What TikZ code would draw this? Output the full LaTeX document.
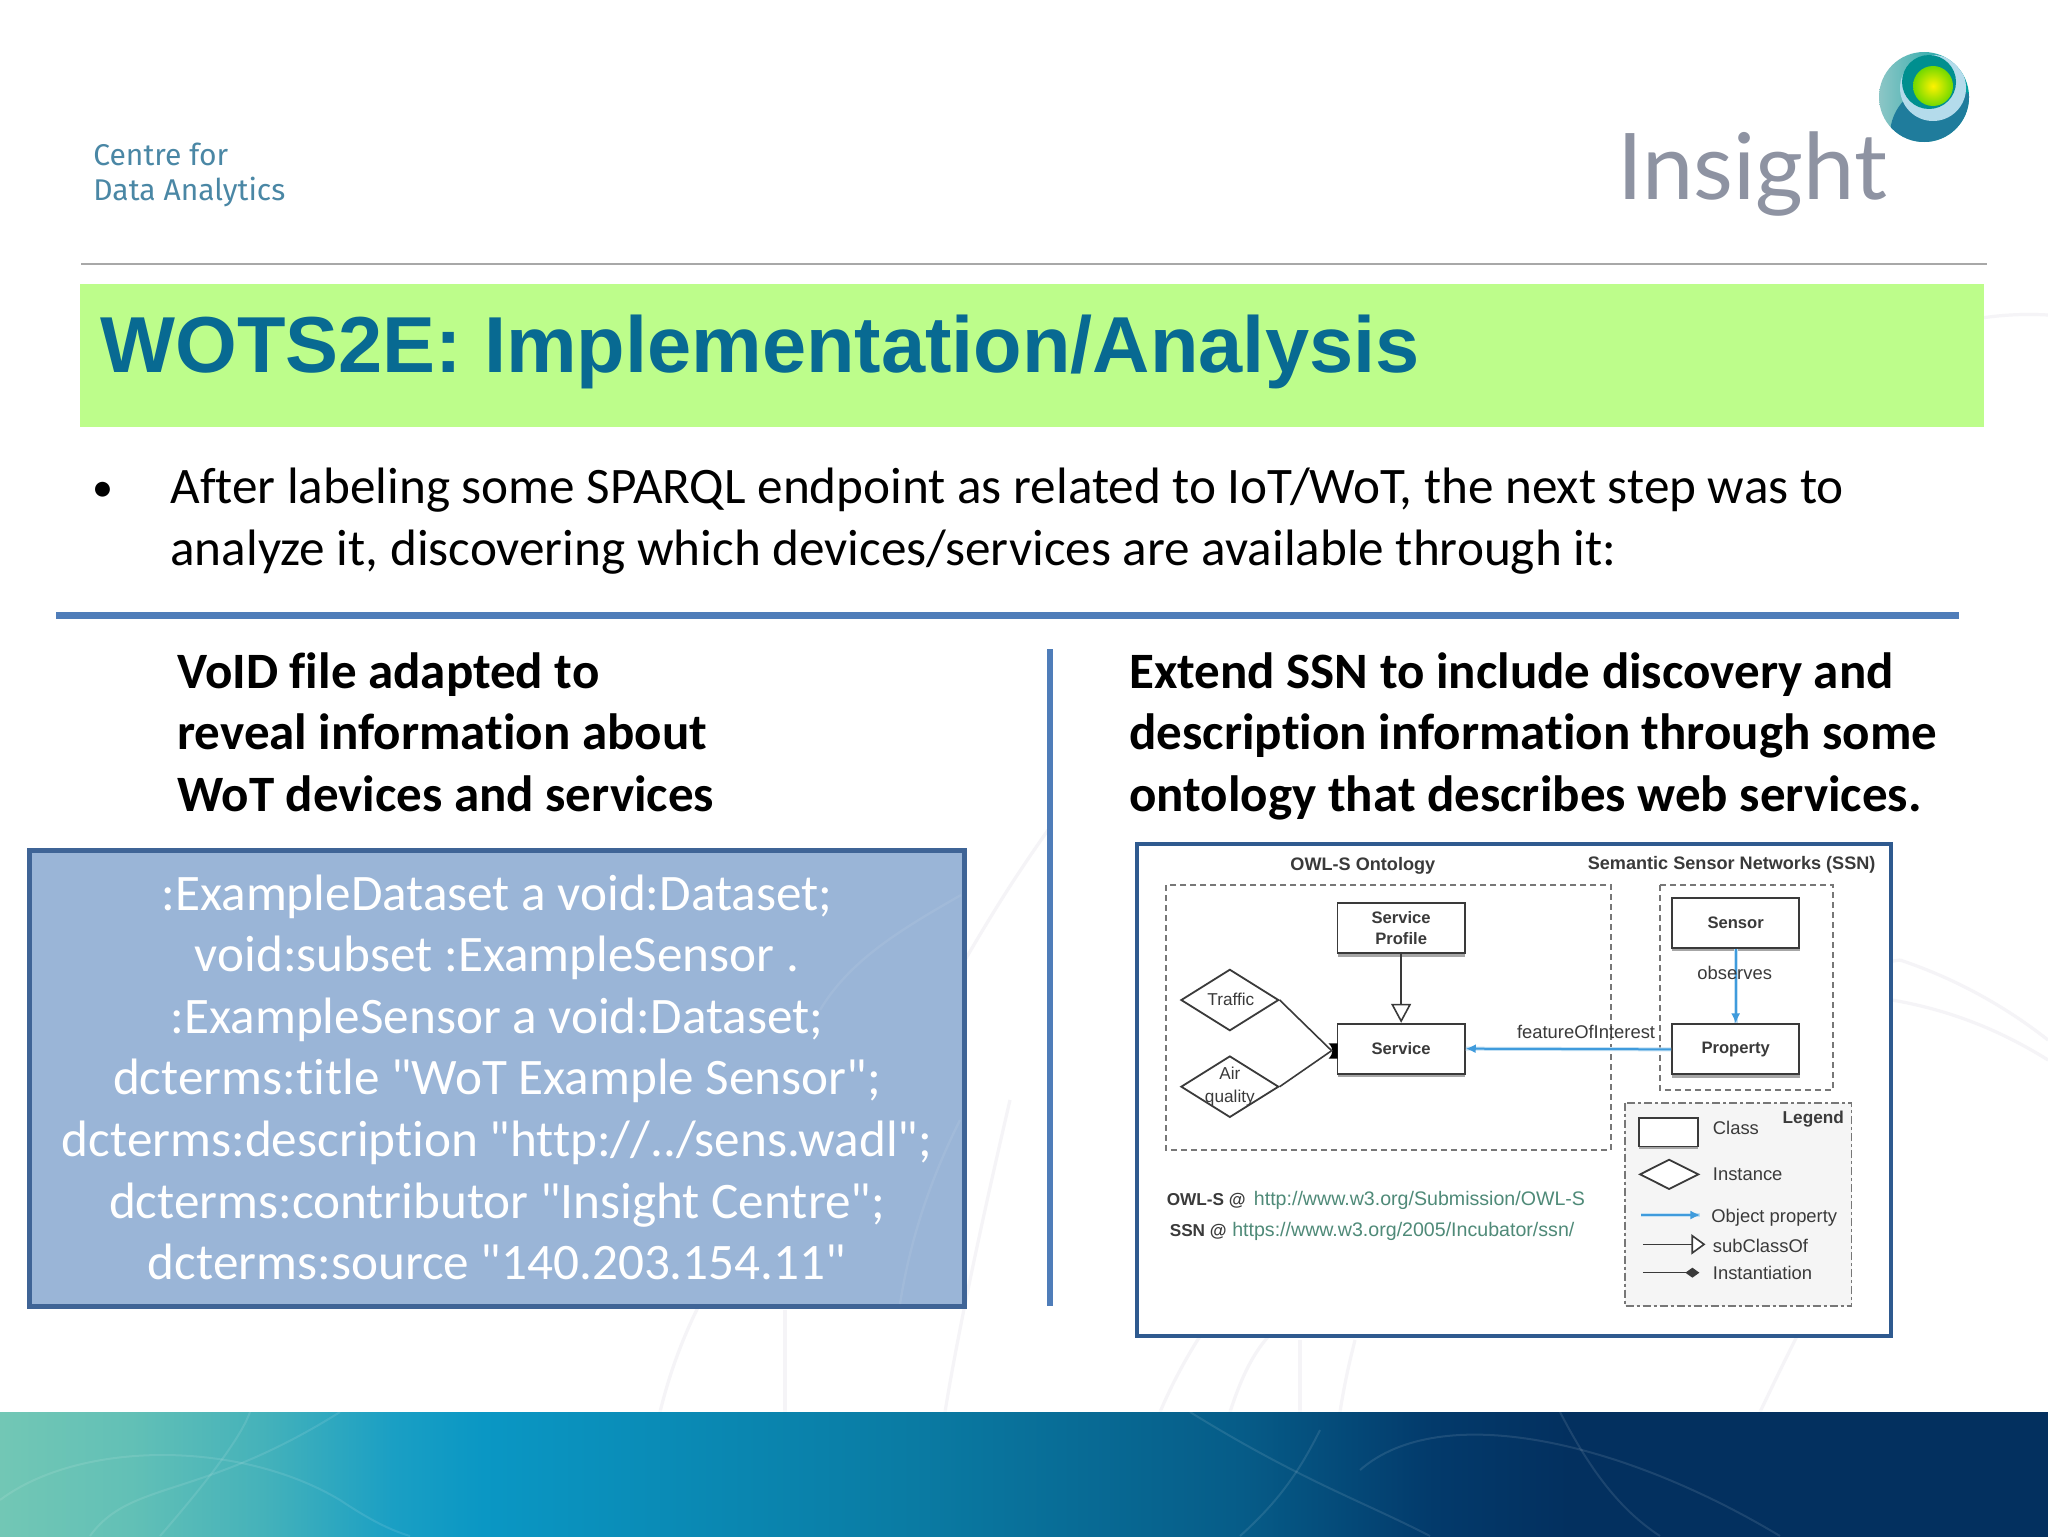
\documentclass[tikz,border=0pt]{standalone}
\usepackage{fontspec}
\setmainfont{Carlito}[Ligatures=NoCommon]
\setsansfont{Liberation Sans}
\newfontfamily\carl{Carlito}[Ligatures=NoCommon]
\newfontfamily\logofont{Lato}
\newfontfamily\ctrfont{Fira Sans}
\usetikzlibrary{arrows.meta,shapes.geometric}
\definecolor{bandgreen}{HTML}{BDFD8B}
\definecolor{titleblue}{HTML}{086A92}
\definecolor{rulegray}{HTML}{A8A8A8}
\definecolor{ruleblue}{HTML}{4F7DB9}
\definecolor{boxfill}{HTML}{9AB5D7}
\definecolor{boxedge}{HTML}{3F6496}
\definecolor{imgedge}{HTML}{2F5A8F}
\definecolor{faint}{HTML}{F5F4F7}
\definecolor{inkg}{HTML}{3A3A3A}
\definecolor{dashg}{HTML}{777777}
\definecolor{linkg}{HTML}{4F8A78}
\definecolor{arrowb}{HTML}{3F9BDC}
\definecolor{insightg}{HTML}{8E93A2}
\definecolor{ctrb}{HTML}{4A87A5}
\definecolor{sphdark}{HTML}{1F7C9C}
\definecolor{g0}{HTML}{72C7B5}
\definecolor{g1}{HTML}{62C0B6}
\definecolor{g2}{HTML}{45B2BA}
\definecolor{g3}{HTML}{1A9FC4}
\definecolor{g4}{HTML}{0A97C4}
\definecolor{g5}{HTML}{0A7BA3}
\definecolor{g6}{HTML}{065C88}
\definecolor{g7}{HTML}{033A6B}
\definecolor{g8}{HTML}{03305F}
\pgfdeclarehorizontalshading{footgrad}{100bp}{
 color(0bp)=(g0);
 color(25bp)=(g0);
 color(28.2bp)=(g1);
 color(31.4bp)=(g2);
 color(34.6bp)=(g3);
 color(36.8bp)=(g4);
 color(47.3bp)=(g5);
 color(55.3bp)=(g6);
 color(60bp)=(g7);
 color(63.3bp)=(g8);
 color(100bp)=(g8)}
\tikzset{
 body/.style={anchor=base west,inner sep=0pt,font=\carl\fontsize{25.6}{30}\selectfont},
 head/.style={anchor=base west,inner sep=0pt,font=\carl\fontsize{25.5}{30}\selectfont\bfseries},
 code/.style={anchor=base,inner sep=0pt,text=white,font=\carl\fontsize{25.6}{30}\selectfont},
 bgline/.style={draw=faint,line width=1.6pt},
 footline/.style={draw=white,opacity=.10,line width=1pt},
 klass/.style={draw=inkg,fill=white,line width=.9pt,minimum width=63.7pt,minimum height=25pt,inner sep=0pt,align=center,font=\sffamily\bfseries\fontsize{8.3}{10.5}\selectfont,text=inkg},
 inst/.style={diamond,draw=inkg,line width=.9pt,inner sep=0pt,minimum width=48.9pt,minimum height=30.7pt},
 shadowbar/.style={fill=black!35,draw=none},
 grp/.style={draw=dashg,line width=.9pt,dash pattern=on 3pt off 2pt},
 lab/.style={inner sep=0pt,text=inkg,font=\sffamily\fontsize{9.2}{10}\selectfont},
 labb/.style={inner sep=0pt,text=inkg,font=\sffamily\bfseries\fontsize{8.6}{10}\selectfont},
 link/.style={inner sep=0pt,text=linkg,anchor=base west,font=\sffamily\fontsize{9.8}{11}\selectfont},
 objprop/.style={draw=arrowb,line width=1pt,-{Latex[length=5pt,width=4.5pt]},preaction={draw=arrowb!30,line width=2pt,-}},
 subcl/.style={draw=inkg,line width=.8pt,-{Triangle[open,length=9.5pt,width=10pt,fill=white]}},
}
\begin{document}
\begin{tikzpicture}[x=.5pt,y=-.5pt]
\useasboundingbox (0,0) rectangle (2048,1536);
\fill[white] (0,0) rectangle (2048,1536);
% faint background texture
\draw[bgline] (1800,400) .. controls (1880,340) and (1960,310) .. (2048,315);
\draw[bgline] (1160,1412) .. controls (1250,1200) and (1500,1020) .. (1900,960);
\draw[bgline] (1900,960) .. controls (1960,980) and (2010,1010) .. (2048,1040);
\draw[bgline] (660,1412) .. controls (680,1330) and (720,1250) .. (790,1180);
\draw[bgline] (785,1412) .. controls (785,1380) and (785,1350) .. (785,1310);
\draw[bgline] (945,1412) .. controls (955,1350) and (975,1250) .. (1010,1100);
\draw[bgline] (1230,1412) .. controls (1250,1350) and (1270,1330) .. (1300,1310);
\draw[bgline] (1300,1412) .. controls (1300,1380) and (1300,1360) .. (1300,1340);
\draw[bgline] (1340,1412) .. controls (1345,1380) and (1350,1360) .. (1355,1340);
\draw[bgline] (1760,1412) .. controls (1780,1370) and (1790,1350) .. (1800,1330);
\draw[bgline] (1892,1000) .. controls (1950,1010) and (2000,1030) .. (2048,1060);
\draw[bgline] (965,960) .. controls (1000,900) and (1020,870) .. (1048,830);
% footer band
\shade[shading=footgrad] (0,1412) rectangle (2048,1536);
\draw[white,opacity=.5,line width=.6pt] (0,1411) -- (2048,1411);
\draw[footline] (0,1500) .. controls (80,1440) and (240,1440) .. (340,1500) .. controls (370,1520) and (390,1530) .. (410,1536);
\draw[footline] (90,1536) .. controls (130,1480) and (200,1500) .. (340,1412);
\draw[footline] (160,1536) .. controls (200,1490) and (240,1440) .. (250,1412);
\draw[footline] (1360,1470) .. controls (1440,1400) and (1620,1440) .. (1780,1536);
\draw[footline] (1190,1412) .. controls (1300,1480) and (1360,1500) .. (1430,1536);
\draw[footline] (1560,1412) .. controls (1590,1470) and (1620,1510) .. (1660,1536);
\draw[footline] (1240,1536) .. controls (1280,1500) and (1300,1470) .. (1320,1430);
% logos
\node[anchor=base west,inner sep=0pt,text=ctrb,font=\ctrfont\fontsize{15}{17}\selectfont] (ctr1) at (93,165) {Centre for};
\node[anchor=base west,inner sep=0pt,text=ctrb,font=\ctrfont\fontsize{15}{17}\selectfont] (ctr2) at (93,200) {Data Analytics};
\node[anchor=base west,inner sep=0pt,text=insightg,font=\logofont\fontsize{46}{50}\selectfont] (insight) at (1617,199) {Insight};
\begin{scope}
 \clip (1924,97) circle[radius=45];
 \shade[left color=teal!45!white,right color=teal!75!cyan] (1879,52) rectangle (1969,142);
 \fill[sphdark] (1940,135) circle[radius=50];
 \fill[cyan!20!white!85!teal] (1933,88) circle[radius=33];
 \fill[teal!88!cyan] (1929,82) circle[radius=27];
 \shade[inner color=yellow!90!orange,outer color=lime!70!green!85!black] (1933,86) circle[radius=20];
\end{scope}
% rules and band
\draw[rulegray,line width=.8pt] (81,264) -- (1987,264);
\fill[bandgreen] (80,284) rectangle (1984,427);
\node[anchor=base west,inner sep=0pt,text=titleblue,font=\sffamily\bfseries\fontsize{39.7}{46}\selectfont] (title) at (100,372) {WOTS2E: Implementation/Analysis};
% bullet text
\node[anchor=base west,inner sep=0pt,font=\carl\fontsize{21}{25}\selectfont] (bul) at (92,501) {•};
\node[body] (b1) at (170,503.5) {After labeling some SPARQL endpoint as related to IoT/WoT, the next step was to};
\node[body] (b2) at (170,565.5) {analyze it, discovering which devices/services are available through it:};
\fill[ruleblue] (56,611.5) rectangle (1959,618.5);
\fill[ruleblue] (1047,649) rectangle (1053,1306);
% headings
\node[head] (l1) at (177,688) {VoID file adapted to};
\node[head] (l2) at (177,749.5) {reveal information about};
\node[head] (l3) at (177,811) {WoT devices and services};
\node[head] (r1) at (1129,688) {Extend SSN to include discovery and};
\node[head] (r2) at (1129,749.5) {description information through some};
\node[head] (r3) at (1129,811) {ontology that describes web services.};
% code box
\draw[boxedge,fill=boxfill,line width=2.5pt] (29,850) rectangle (964,1306);
\draw[white,opacity=.07,line width=1.2pt] (961,895) .. controls (900,930) and (850,960) .. (820,1010);
\draw[white,opacity=.07,line width=1.2pt] (960,1120) .. controls (930,1180) and (910,1240) .. (900,1304);
\node[code] (c1) at (497,910.5) {:ExampleDataset a void:Dataset;};
\node[code] (c2) at (497,971.5) {void:subset :ExampleSensor .};
\node[code] (c3) at (497,1033.5) {:ExampleSensor a void:Dataset;};
\node[code] (c4) at (497,1094.5) {dcterms:title "WoT Example Sensor";};
\node[code] (c5) at (497,1156.5) {dcterms:description "http://../sens.wadl";};
\node[code] (c6) at (497,1218.5) {dcterms:contributor "Insight Centre";};
\node[code] (c7) at (497,1279.5) {dcterms:source "140.203.154.11"};
% embedded figure
\draw[imgedge,fill=white,line width=2pt] (1137,844) rectangle (1891,1336);
\begin{scope}[shift={(1120,830)},x=.2519pt,y=-.16667pt]
 \fill[black!4] (1002,818) rectangle (1452,1428);
 \draw[grp] (92,165) rectangle (975,960);
 \draw[grp] (1072,165) rectangle (1415,780);
 \draw[dashg,line width=.9pt,dash pattern=on 4pt off 1.5pt on 1.5pt off 1.5pt] (1002,818) rectangle (1452,1428);
 \node[labb,anchor=center,font=\sffamily\bfseries\fontsize{9.05}{10}\selectfont] (owlt) at (482,107) {OWL-S Ontology};
 \node[labb,anchor=center,font=\sffamily\bfseries\fontsize{9.05}{10}\selectfont] (ssnt) at (1214,105) {Semantic Sensor Networks (SSN)};
 % shadows
 \fill[shadowbar] (432,370) rectangle (685,380);
 \fill[shadowbar] (432,732) rectangle (685,742);
 \fill[shadowbar] (1095,352) rectangle (1350,362);
 \fill[shadowbar] (1095,735) rectangle (1350,745);
 \fill[shadowbar] (1030,950) rectangle (1147,958);
 % classes
 \node[klass] (profile) at (558,295) {Service\\[0pt]Profile};
 \node[klass] (service) at (558,656) {Service};
 \node[klass] (sensor) at (1222,278) {Sensor};
 \node[klass] (property) at (1222,658) {Property};
 \node[inst] (traffic) at (218,510) {};
 \node[inst] (air) at (218,770) {};
 \node[lab,anchor=center,font=\sffamily\fontsize{8.6}{10}\selectfont] (traffict) at (220,508) {Traffic};
 \node[lab,anchor=center,align=center,font=\sffamily\fontsize{8.6}{11.5}\selectfont] (airt) at (218,770) {Air\\quality};
 % connectors
 \draw[subcl] (profile.south) -- (service.north);
 \coordinate (inst) at (420,662);
 \draw[inkg,line width=.8pt] (traffic.east) -- (inst);
 \draw[inkg,line width=.8pt] (air.east) -- (inst);
 \fill[black] (414,640) .. controls (424,655) and (424,670) .. (414,686) -- (432,686) -- (432,640) -- cycle;
 \draw[objprop] (sensor.south) -- (property.north);
 \draw[objprop] (property.west) -- (service.east);
 \node[lab,anchor=center] (obs) at (1220,430) {observes};
 \node[lab,anchor=center] (foi) at (925,607) {featureOfInterest};
 % references
 \node[labb,anchor=base west] (owlr) at (92,1125) {OWL-S @};
 \node[link] (owlu) at (265,1125) {http://www.w3.org/Submission/OWL-S};
 \node[labb,anchor=base west] (ssnr) at (98,1218) {SSN @};
 \node[link] (ssnu) at (222,1218) {https://www.w3.org/2005/Incubator/ssn/};
 % legend
 \node[labb,anchor=center] (legt) at (1376,868) {Legend};
 \node[draw=inkg,fill=white,line width=.9pt,inner sep=0pt,minimum width=29.5pt,minimum height=14.2pt] (lclass) at (1088,907) {};
 \node[diamond,draw=inkg,fill=white,line width=.9pt,inner sep=0pt,minimum width=29.5pt,minimum height=15pt] (linst) at (1090,1033) {};
 \node[lab,anchor=west] (lc) at (1176,895) {Class};
 \node[lab,anchor=west] (li) at (1176,1033) {Instance};
 \node[lab,anchor=west] (lo) at (1173,1163) {Object property};
 \node[lab,anchor=west] (ls) at (1176,1247) {subClassOf};
 \node[lab,anchor=west] (lt) at (1176,1330) {Instantiation};
 \coordinate (oa) at (1035,1155); \coordinate (ob) at (1152,1155);
 \coordinate (sa) at (1038,1243); \coordinate (sb) at (1162,1243);
 \coordinate (ta) at (1038,1328); \coordinate (tb) at (1150,1328);
 \draw[objprop] (oa) -- (ob);
 \draw[inkg,line width=.8pt,-{Triangle[open,length=7pt,width=10pt,fill=white]}] (sa) -- (sb);
 \draw[inkg,line width=.8pt,-{Diamond[length=7pt,width=5pt]}] (ta) -- (tb);
\end{scope}
\end{tikzpicture}
\end{document}
